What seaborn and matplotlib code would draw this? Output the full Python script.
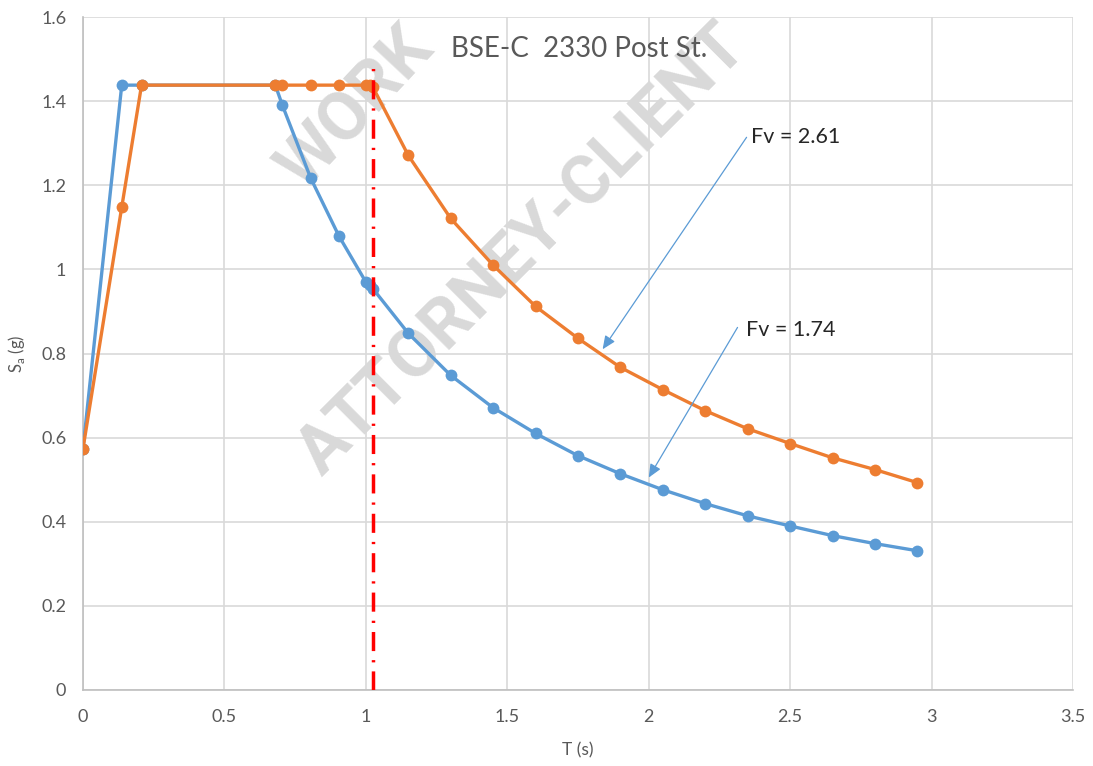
import numpy as np
import pandas as pd
import matplotlib
matplotlib.use("Agg")
import matplotlib.pyplot as plt
import seaborn as sns

# ---- data ----
T_values = [0, 0.137, 0.207, 0.68, 0.705, 0.805, 0.905, 1.0, 1.014, 1.025,
            1.15, 1.3, 1.45, 1.6, 1.75, 1.9, 2.05, 2.2, 2.35, 2.5, 2.65, 2.8, 2.95]
sa_fv174 = [0.574, 1.438, 1.438, 1.438, 1.390, 1.217, 1.079, 0.970, 0.964, 0.954,
            0.848, 0.748, 0.671, 0.610, 0.557, 0.514, 0.476, 0.443, 0.414, 0.390,
            0.367, 0.348, 0.331]
sa_fv261 = [0.574, 1.148, 1.438, 1.438, 1.438, 1.438, 1.438, 1.438, 1.438, 1.433,
            1.271, 1.121, 1.010, 0.912, 0.836, 0.767, 0.714, 0.664, 0.621, 0.586,
            0.552, 0.524, 0.493]
series_names = ["Fv = 1.74", "Fv = 2.61"]
building_T = [1.025, 1.025]
building_Sa = [0.0, 1.49]
x_ticks = [0, 0.5, 1, 1.5, 2, 2.5, 3, 3.5]
y_ticks = [0, 0.2, 0.4, 0.6, 0.8, 1.0, 1.2, 1.4, 1.6]
x_tick_labels = ["0", "0.5", "1", "1.5", "2", "2.5", "3", "3.5"]
y_tick_labels = ["0", "0.2", "0.4", "0.6", "0.8", "1", "1.2", "1.4", "1.6"]
title = "BSE-C  2330 Post St."
watermark_lines = ["WORK", "ATTORNEY-CLIENT"]

df = pd.DataFrame({
    "T": T_values * 2,
    "Sa": sa_fv174 + sa_fv261,
    "series": [series_names[0]] * len(T_values) + [series_names[1]] * len(T_values),
})
df_red = pd.DataFrame({"T": building_T, "Sa": building_Sa})

sns.set_style("white")
plt.rcParams["font.family"] = ["Lato", "DejaVu Sans"]

W, H = 1093, 766
fig = plt.figure(figsize=(W / 100, H / 100), dpi=100)
ax = fig.add_axes([83 / W, 1 - 690 / H, (1073 - 83) / W, (690 - 17) / H])

blue = "#5B9BD5"
orange = "#ED7D31"
gray_txt = "#595959"

# watermark (behind data)
wm_color = "#d9d9d9"
wm_font = ["Roboto", "DejaVu Sans"]
ax.text(304 / W, 1 - 192 / H, watermark_lines[0], transform=fig.transFigure,
        rotation=47, rotation_mode="anchor", ha="left", va="baseline",
        fontsize=49, fontweight="bold", color=wm_color, zorder=1, clip_on=False,
        family=wm_font)
ax.text(322 / W, 1 - 478 / H, watermark_lines[1], transform=fig.transFigure,
        rotation=45, rotation_mode="anchor", ha="left", va="baseline",
        fontsize=49, fontweight="bold", color=wm_color, zorder=1, clip_on=False,
        family=wm_font)

sns.lineplot(data=df, x="T", y="Sa", hue="series", palette=[blue, orange],
             hue_order=series_names, sort=False, estimator=None, marker="o",
             markersize=8.5, markeredgewidth=0, linewidth=2.4, ax=ax, legend=False,
             zorder=3)

sns.lineplot(data=df_red, x="T", y="Sa", color="#FF0000", sort=False, estimator=None,
             linewidth=2.5, ax=ax, legend=False, zorder=4)
ax.lines[-1].set_dashes((5.5, 2.6, 0.65, 2.6))

ax.set_xlim(0, 3.5)
ax.set_ylim(0, 1.6)
ax.set_xticks(x_ticks)
ax.set_xticklabels(x_tick_labels)
ax.set_yticks(y_ticks)
ax.set_yticklabels(y_tick_labels)
ax.tick_params(axis="both", length=0, labelsize=13, colors=gray_txt)
ax.tick_params(axis="x", pad=14)
ax.tick_params(axis="y", pad=12)

ax.grid(True, color="#d9d9d9", linewidth=1.2, zorder=0)
ax.set_axisbelow(True)
for s in ["top", "right"]:
    ax.spines[s].set_visible(False)
for s in ["left", "bottom"]:
    ax.spines[s].set_color("#bfbfbf")
    ax.spines[s].set_linewidth(1.2)

ax.set_xlabel("T (s)", fontsize=12.5, color=gray_txt, labelpad=12)
ax.set_ylabel(r"S$_\mathregular{a}$ (g)", fontsize=12, color=gray_txt, labelpad=10)

fig.text(579.6 / W, 1 - 49 / H, title, ha="center", va="center",
         fontsize=20, color=gray_txt)

arrow_kw = dict(arrowstyle="-|>,head_length=0.8,head_width=0.35", color=blue,
                lw=0.9, shrinkA=0, shrinkB=0)
ax.annotate("", xy=(1.837, 0.810), xytext=(2.346, 1.314), arrowprops=arrow_kw, zorder=5)
ax.annotate("", xy=(2.0, 0.505), xytext=(2.314, 0.862), arrowprops=arrow_kw, zorder=5)
ax.text(2.36, 1.314, series_names[1], fontsize=15.5, color="#262626", va="center", ha="left")
ax.text(2.343, 0.857, series_names[0], fontsize=15.5, color="#262626", va="center", ha="left")

fig.savefig("out.png", dpi=100, facecolor="white")
